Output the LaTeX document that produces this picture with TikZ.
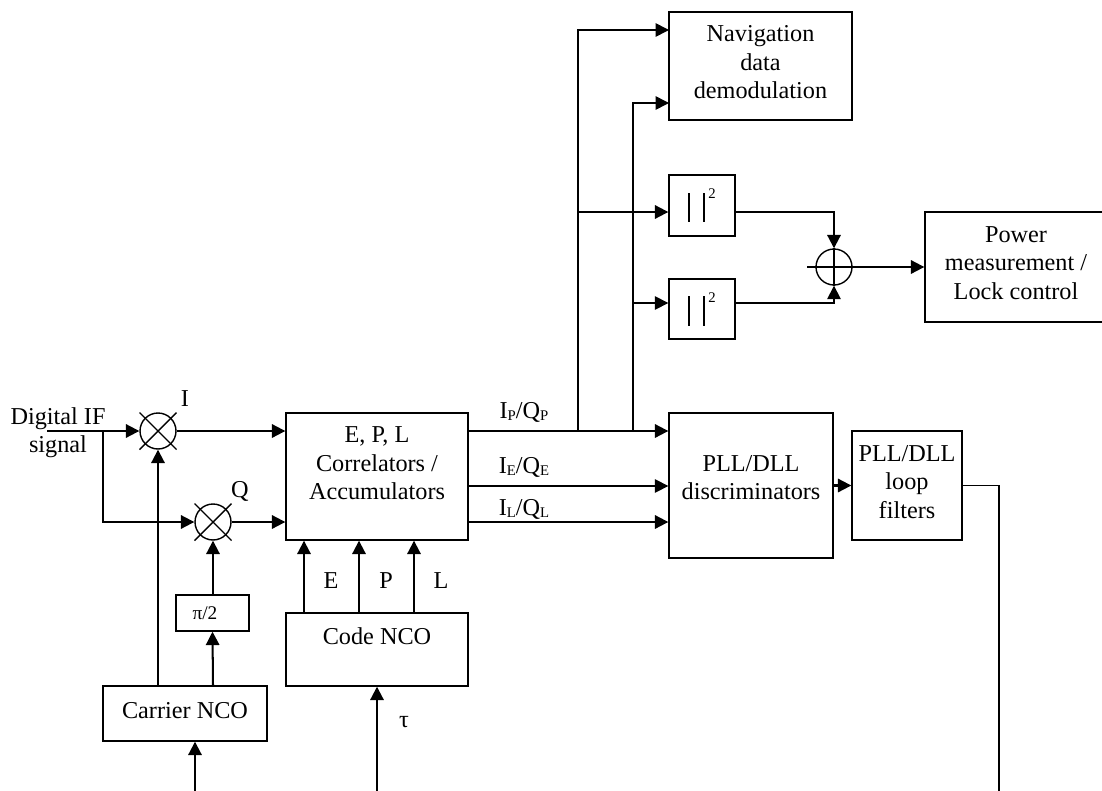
\documentclass[tikz,border=0pt]{standalone}
\usepackage{fontspec}
\setmainfont{Liberation Serif}
\usepackage{tikz}
\usetikzlibrary{arrows.meta,calc}
\tikzset{
  blockbox/.style={draw,line width=0.8pt,inner sep=0pt,align=center,font=\fontsize{13.8}{16.2}\selectfont},
  labeltxt/.style={inner sep=0pt,align=center,font=\fontsize{13.8}{16.2}\selectfont},
  smalltxt/.style={inner sep=0pt,font=\fontsize{8.4}{10}\selectfont},
  mixcircle/.style={draw,circle,line width=0.8pt,inner sep=0pt,minimum size=0.72cm},
  sigarrow/.style={line width=1.15pt,-{Triangle[length=7.6pt,width=7.6pt]}},
  lowarrow/.style={line width=0.9pt,-{Triangle[length=7.6pt,width=7.6pt]}},
  lowline/.style={line width=0.9pt},
  thinline/.style={line width=0.8pt}
}
\newcommand{\subtxt}[1]{\raisebox{-1.4pt}{\fontsize{8.4}{10}\selectfont #1}}
\begin{document}
\begin{tikzpicture}[x=0.02cm,y=-0.02cm]
\useasboundingbox (0,0) rectangle (1102,791);
% blocks on the right
\node[blockbox,minimum width=3.66cm,minimum height=2.16cm,text depth=0.16cm] (nav) at (760.5,66) {Navigation\\data\\demodulation};
\node[blockbox,minimum width=1.32cm,minimum height=1.22cm] (absa) at (702,205.5) {};
\node[blockbox,minimum width=1.32cm,minimum height=1.2cm] (absb) at (702,309) {};
\node[blockbox,minimum width=3.64cm,minimum height=2.2cm,text depth=0.16cm] (power) at (1016,267) {Power\\measurement /\\Lock control};
\node[blockbox,minimum width=3.28cm,minimum height=2.9cm,text depth=0.32cm] (disc) at (751,485.5) {PLL/DLL\\discriminators};
\node[blockbox,minimum width=2.2cm,minimum height=2.18cm,text depth=0.14cm] (filt) at (907,485.5) {PLL/DLL\\loop\\filters};
% blocks on the left
\node[blockbox,minimum width=3.64cm,minimum height=2.54cm,text depth=0.52cm] (corr) at (377,476.5) {E, P, L\\Correlators /\\Accumulators};
\node[blockbox,minimum width=3.64cm,minimum height=1.46cm,text depth=0.52cm] (code) at (377,649.5) {Code NCO};
\node[blockbox,minimum width=3.28cm,minimum height=1.1cm,text depth=0.14cm] (carrier) at (185,713.5) {Carrier NCO};
\node[blockbox,minimum width=1.46cm,minimum height=0.72cm] (shift) at (212.5,613) {\fontsize{11}{12}\selectfont π/2\hspace{0.3cm}};
% mixers
\node[mixcircle] (mixi) at (158,431) {};
\node[mixcircle] (mixq) at (213,522) {};
\draw[thinline] ($(mixi)+(-18.5,-18.5)$) -- ($(mixi)+(18.5,18.5)$);
\draw[thinline] ($(mixi)+(-18.5,18.5)$) -- ($(mixi)+(18.5,-18.5)$);
\draw[thinline] ($(mixq)+(-18.5,-18.5)$) -- ($(mixq)+(18.5,18.5)$);
\draw[thinline] ($(mixq)+(-18.5,18.5)$) -- ($(mixq)+(18.5,-18.5)$);
% summer
\node[mixcircle] (sum) at (834,267) {};
\draw[thinline] ($(sum)+(-27,0)$) -- (sum.east);
\draw[thinline] (sum.north) -- (sum.south);
% magnitude bars
\draw[thinline] (689,193) -- (689,222);
\draw[thinline] (704,193) -- (704,222);
\draw[thinline] (689,296) -- (689,326);
\draw[thinline] (704,296) -- (704,326);
\node[smalltxt] (sqa) at (712,194) {2};
\node[smalltxt] (sqb) at (712,298) {2};
% free ends and rails
\coordinate (ifin) at (47,431);
\coordinate (ifsplit) at (103,431);
\coordinate (carin) at (195,791);
\coordinate (tauin) at (377,791);
\coordinate (loopout) at (999,791);
\coordinate (colp) at (578,431);
\coordinate (colq) at (633,431);
\coordinate (rowe) at (469,486);
\coordinate (rowl) at (469,522);
\coordinate (rowa) at (578,212);
\coordinate (rowb) at (633,303);
\coordinate (navtop) at (669,30);
\coordinate (navlow) at (669,103);
\coordinate (ecol) at (304,577);
\coordinate (pcol) at (359,577);
\coordinate (lcol) at (414,577);
% input side
\draw[sigarrow] (ifin) -- (mixi.west);
\draw[sigarrow] (ifsplit) |- (mixq.west);
\draw[sigarrow] (mixi.east) -- (corr.west |- mixi);
\draw[sigarrow] (mixq.east) -- (corr.west |- mixq);
\draw[sigarrow] (carrier.north -| mixi) -- (mixi.south);
\draw[sigarrow] (carrier.north -| mixq) -- (shift.south);
\draw[sigarrow] (shift.north -| mixq) -- (mixq.south);
\draw[sigarrow] (carin) -- (carrier.south -| carin);
\draw[sigarrow] (tauin) -- (code.south -| tauin);
\draw[sigarrow] (code.north -| ecol) -- (corr.south -| ecol);
\draw[sigarrow] (code.north -| pcol) -- (corr.south -| pcol);
\draw[sigarrow] (code.north -| lcol) -- (corr.south -| lcol);
% correlator outputs
\draw[sigarrow] (corr.east |- colp) -- (disc.west |- colp);
\draw[lowarrow] (corr.east |- rowe) -- (disc.west |- rowe);
\draw[sigarrow] (corr.east |- rowl) -- (disc.west |- rowl);
\draw[lowarrow] (colp) |- (navtop);
\draw[lowarrow] (colq) |- (navlow);
\draw[sigarrow] (rowa) -- (absa.west |- rowa);
\draw[lowarrow] (rowb) -- (absb.west |- rowb);
% squared outputs
\draw[sigarrow] (absa.east |- rowa) -| (sum.north);
\draw[lowarrow] (absb.east |- rowb) -| (sum.south);
\draw[sigarrow] (sum.east) -- (power.west |- sum);
% loop
\draw[sigarrow] (disc.east |- filt) -- (filt.west);
\draw[lowline] (filt.east) -| (loopout);
% labels
\node[labeltxt] (diglab) at (58,432.5) {Digital IF\\signal};
\node[labeltxt,anchor=base] (ilab) at (185,406) {I};
\node[labeltxt,anchor=base] (qlab) at (240,497) {Q};
\node[labeltxt,anchor=base] (elab) at (331,588) {E};
\node[labeltxt,anchor=base] (plab) at (386,588) {P};
\node[labeltxt,anchor=base] (llab) at (441,588) {L};
\node[labeltxt,anchor=base] (taulab) at (404,727) {τ};
\node[labeltxt,anchor=base] (ipq) at (524,418) {I\subtxt{P}/Q\subtxt{P}};
\node[labeltxt,anchor=base] (ieq) at (524,473) {I\subtxt{E}/Q\subtxt{E}};
\node[labeltxt,anchor=base] (ilq) at (524,515) {I\subtxt{L}/Q\subtxt{L}};
\end{tikzpicture}
\end{document}
